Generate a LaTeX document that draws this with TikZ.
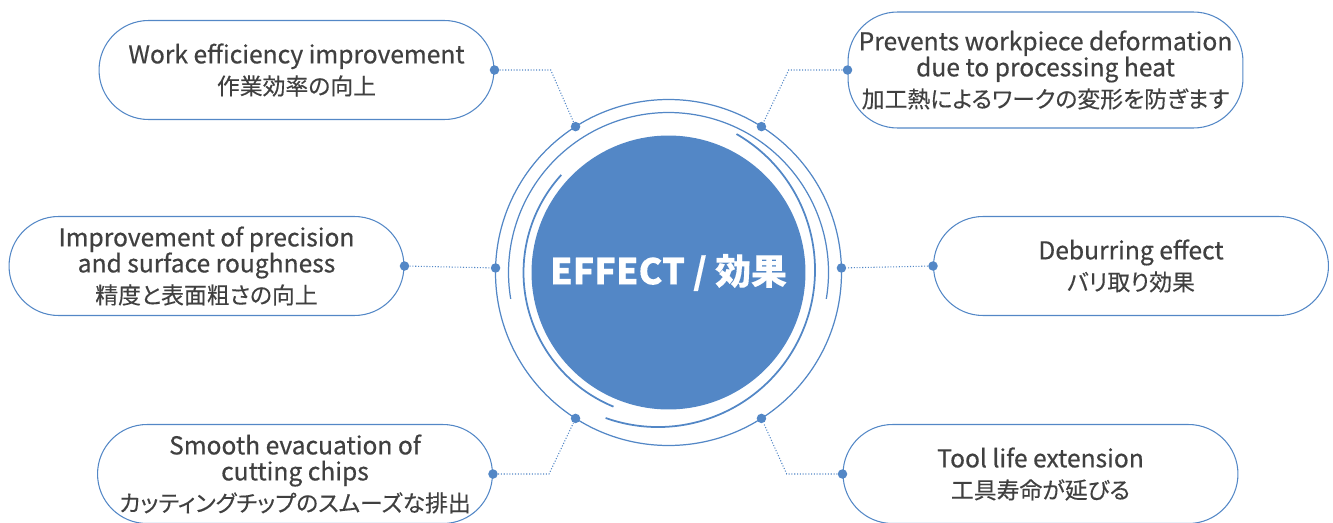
\documentclass[tikz,border=0pt]{standalone}
\usepackage{fontspec}
\setmainfont{Noto Sans CJK JP}[RawFeature={+palt}, FakeBold=0.25]
\newfontfamily\latn{Noto Sans CJK JP}[FakeBold=0.5]
\usepackage{xcolor}
\usetikzlibrary{positioning,calc}
\definecolor{effblue}{RGB}{83,135,198}
\definecolor{efftext}{RGB}{64,64,64}
\newcommand{\en}[1]{{\latn\fontsize{14}{14.8}\selectfont #1}}
\tikzset{
    effect/.style={draw=effblue, line width=0.6pt, rectangle, rounded corners=0.99cm, minimum width=7.9cm, minimum height=1.98cm, align=center, text=efftext, font=\fontsize{13}{14.8}\selectfont},
    hub/.style={circle, fill=effblue, minimum size=5.48cm, text=white, font=\fontsize{20.4}{24}\selectfont\bfseries},
    ring/.style={draw=effblue, line width=0.7pt},
    arcring/.style={draw=effblue, line width=1pt},
    link/.style={draw=effblue, densely dotted, line width=0.6pt},
    pin/.style={circle, fill=effblue, inner sep=0pt, minimum size=0.19cm}
}

\begin{document}
\begin{tikzpicture}[x=0.02cm, y=0.02cm]
    \useasboundingbox (0,0) rectangle (1333,522);

    % centre and rings
    \coordinate (c) at (668.5,249.5);
    \coordinate (c2) at (658,252);
    \node[hub] (hub) at (c) {EFFECT / 効果};
    \draw[ring] (c) circle[radius=173];
    \draw[ring] ($(c)+(-9.5:160)$) arc[start angle=-9.5, end angle=189.5, radius=160];
    \draw[arcring] ($(c)+(137.7:145)$) arc[start angle=137.7, end angle=247.7, radius=145];
    \draw[arcring] ($(c2)+(-109.5:157)$) arc[start angle=-109.5, end angle=60, radius=157];

    % dots on the outer ring
    \foreach \a/\n in {122.5/ptl, 57.5/ptr, 178.5/pl, 1.5/pr, 237.5/pbl, 302.5/pbr}
        \node[pin] (\n) at ($(c)+(\a:173)$) {};

    % effect boxes
    \node[effect] (w1) at (296.5,452) {\en{Work efficiency improvement}\\[3pt]作業効率の向上};
    \node[effect, minimum height=2.32cm] (w2) at (1045.5,452) {\en{Prevents workpiece deformation}\\\en{due to processing heat}\\[3pt]加工熱によるワークの変形を防ぎます};
    \node[effect] (w3) at (206.5,256) {\en{Improvement of precision}\\\en{and surface roughness}\\[3pt]精度と表面粗さの向上};
    \node[effect] (w4) at (1131,256) {\en{Deburring effect}\\[3pt]バリ取り効果};
    \node[effect] (w5) at (295,48) {\en{Smooth evacuation of}\\\en{cutting chips}\\[3pt]カッティングチップのスムーズな排出};
    \node[effect] (w6) at (1040.5,48) {\en{Tool life extension}\\[3pt]工具寿命が延びる};

    % dots on the boxes
    \node[pin] (d1) at (w1.east) {};
    \node[pin] (d2) at (w2.west) {};
    \node[pin] (d3) at (w3.east) {};
    \node[pin] (d4) at (w4.west) {};
    \node[pin] (d5) at (w5.east) {};
    \node[pin] (d6) at (w6.west) {};

    % connectors
    \coordinate (k1) at (550.7,449.7);
    \coordinate (k2) at (788.7,449.7);
    \coordinate (k5) at (549,48);
    \coordinate (k6) at (786.7,48);
    \draw[link] (d1) -- (d1 -| k1) -- (ptl);
    \draw[link] (d2) -- (d2 -| k2) -- (ptr);
    \draw[link] (d3) -- (pl);
    \draw[link] (d4) -- (pr);
    \draw[link] (d5) -- (d5 -| k5) -- (pbl);
    \draw[link] (d6) -- (d6 -| k6) -- (pbr);
\end{tikzpicture}
\end{document}
